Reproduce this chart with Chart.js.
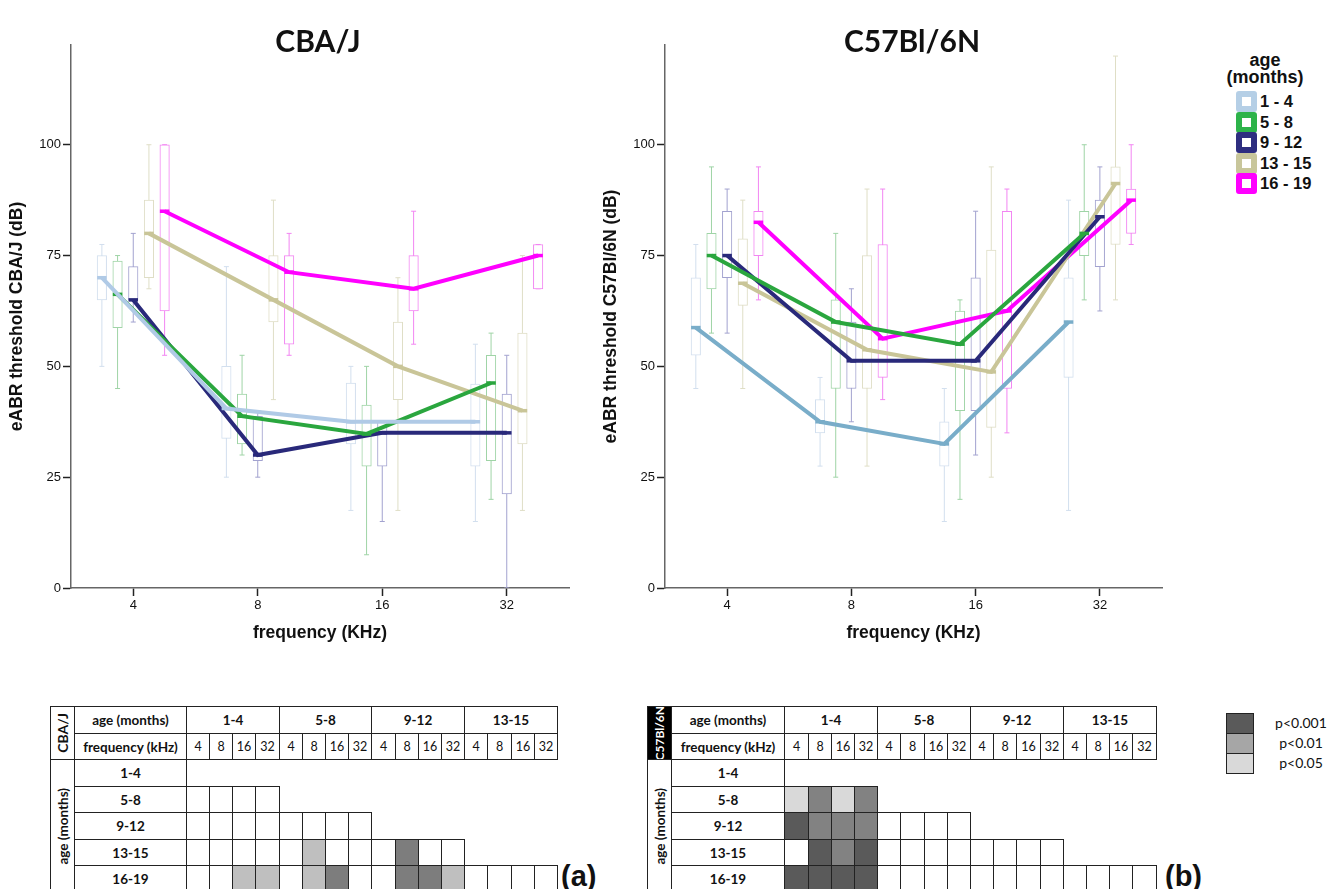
<!DOCTYPE html>
<html><head><meta charset="utf-8">
<script src="https://cdn.jsdelivr.net/npm/chart.js@4.4.1/dist/chart.umd.min.js"></script>
<style>
html,body{margin:0;padding:0;background:#fff;}
body{width:1338px;height:889px;overflow:hidden;position:relative;font-family:'Liberation Sans',Arial,sans-serif;color:#111;}
canvas.cv{position:absolute;top:0;}
.ctitle{position:absolute;font-family:Lato,sans-serif;font-weight:bold;font-size:30px;transform:translate(-50%,-50%);white-space:nowrap;color:#111;}
.cell{position:absolute;box-sizing:border-box;border:1px solid #222;display:flex;align-items:center;justify-content:center;font-family:Lato,sans-serif;font-size:13.5px;color:#111;white-space:nowrap;}
.b{font-weight:bold;}
.vt{writing-mode:vertical-rl;transform:rotate(180deg);}
.leg{position:absolute;font-weight:bold;font-size:16.5px;line-height:21px;white-space:nowrap;}
.sq{position:absolute;width:21px;height:21px;box-sizing:border-box;border:6px solid;border-radius:3px;background:#fff;}
.plab{position:absolute;font-family:Lato,sans-serif;font-size:14px;width:60px;text-align:center;}
.tag{position:absolute;font-weight:bold;font-size:29px;}
</style></head><body>
<canvas id="c1" class="cv" width="600" height="660" style="left:0px"></canvas>
<canvas id="c2" class="cv" width="600" height="660" style="left:594px"></canvas>
<div class="ctitle" style="left:318px;top:40px">CBA/J</div>
<div class="ctitle" style="left:912px;top:40px">C57Bl/6N</div>
<div id="legend"></div>
<div id="tables"></div>
<script>
// ---------- data ----------
const freqLabels = ['4', '8', '16', '32'];
const ageGroups = ['1 - 4', '5 - 8', '9 - 12', '13 - 15', '16 - 19'];
const tableAges = ['1-4', '5-8', '9-12', '13-15', '16-19'];

// CBA/J  (rows: age groups 1-4,5-8,9-12,13-15,16-19 ; cols: 4,8,16,32 kHz)
const cbaMin = [[50, 25, 17.5, 15], [45, 30, 7.5, 20], [60, 25, 15, 0], [67.5, 42.5, 17.5, 17.5], [52.5, 52.5, 55, 67.5]];
const cbaQ1  = [[65, 33.75, 32.5, 27.5], [58.75, 32.5, 27.5, 28.75], [65, 28.75, 27.5, 21.25], [70, 60, 42.5, 32.5], [62.5, 55, 62.5, 67.5]];
const cbaMed = [[70, 40.5, 37.5, 37.5], [66.25, 38.75, 34.75, 46.25], [65, 30, 35, 35], [80, 65, 50, 40], [85, 71.25, 67.5, 75]];
const cbaQ3  = [[75, 50, 46.25, 46], [73.75, 43.75, 41.25, 52.5], [72.5, 38.75, 37.5, 43.75], [87.5, 75, 60, 57.5], [100, 75, 75, 77.5]];
const cbaMax = [[77.5, 72.5, 50, 55], [75, 52.5, 50, 57.5], [80, 40, 37.5, 52.5], [100, 87.5, 70, 75], [100, 80, 85, 77.5]];

// C57Bl/6N
const c57Min = [[45, 27.5, 15, 17.5], [57.5, 25, 20, 65], [57.5, 37.5, 30, 62.5], [45, 27.5, 25, 65], [65, 42.5, 35, 77.5]];
const c57Q1  = [[52.5, 35, 27.5, 47.5], [67.5, 45, 40, 75], [70, 45, 40, 72.5], [63.75, 45, 36.25, 77.5], [75, 47.5, 45, 80]];
const c57Med = [[58.75, 37.5, 32.5, 60], [75, 60, 55, 80], [75, 51.25, 51.25, 83.75], [68.75, 53.75, 48.75, 91.25], [82.5, 56.25, 62.5, 87.5]];
const c57Q3  = [[70, 42.5, 37.5, 70], [80, 65, 62.5, 85], [85, 60, 70, 87.5], [78.75, 75, 76.25, 95], [85, 77.5, 85, 90]];
const c57Max = [[77.5, 47.5, 45, 87.5], [95, 80, 65, 100], [90, 67.5, 85, 95], [87.5, 90, 95, 120], [95, 90, 90, 100]];

// significance tables (0 none, 1 p<0.05, 2 p<0.01, 3 p<0.001); row per age group, columns = 4 freqs per earlier group
const sigCBA = [
  [],
  [0, 0, 0, 0],
  [0, 0, 0, 0, 0, 0, 0, 0],
  [0, 0, 0, 0, 0, 1, 0, 0, 0, 2, 0, 0],
  [0, 0, 1, 1, 0, 1, 2, 0, 0, 2, 2, 1, 0, 0, 0, 0]
];
const sigC57 = [
  [],
  [1, 2, 1, 2],
  [3, 2, 2, 2, 0, 0, 0, 0],
  [0, 3, 2, 3, 0, 0, 0, 0, 0, 0, 0, 0],
  [3, 3, 3, 3, 0, 0, 0, 0, 0, 0, 0, 0, 0, 0, 0, 0]
];
const pLabels = ['p<0.001', 'p<0.01', 'p<0.05'];

// ---------- styles ----------
const boxColors = ['#d2dfee', '#9fd4a6', '#a2a2cf', '#dfdec6', '#f285f2'];
const lineCBA = ['#b0cae6', '#2aa63e', '#29297a', '#c9c598', '#ff00ff'];
const lineC57 = ['#79adc9', '#2aa63e', '#29297a', '#c9c598', '#ff00ff'];
const legendColors = ['#b5cfe6', '#2db34a', '#2e2e80', '#c8c69b', '#ff00ff'];
const palCBA = {1: '#bfbfbf', 2: '#7d7d7d', 3: '#595959'};
const palC57 = {1: '#d9d9d9', 2: '#828282', 3: '#5a5a5a'};
const pColors = ['#5a5a5a', '#a6a6a6', '#d9d9d9'];

function makeChart(id, yTitle, mins, q1s, meds, q3s, maxs, lineCols, padRight) {
  const n = ageGroups.length, catPct = 0.63, slot = catPct / n;
  const datasets = [];
  for (let k = 0; k < n; k++) {
    const off = (k - (n - 1) / 2) * slot;
    datasets.push({
      type: 'bar', label: ageGroups[k],
      data: q1s[k].map((v, i) => ({x: i + off, y: [v, q3s[k][i]]})),
      backgroundColor: '#ffffff', borderColor: boxColors[k], borderWidth: 1, borderSkipped: false,
      grouped: false, barThickness: 9.5, order: 2, xAxisID: 'x2', yAxisID: 'y'
    });
    const wd = [];
    freqLabels.forEach((f, i) => {
      wd.push({x: i + off, y: mins[k][i]}, {x: i + off, y: maxs[k][i]}, {x: i + off, y: null});
    });
    datasets.push({
      type: 'line', data: wd, borderColor: boxColors[k], borderWidth: 1,
      pointStyle: 'line', pointRadius: 2.5, pointBorderWidth: 1, pointBorderColor: boxColors[k],
      pointBackgroundColor: boxColors[k], spanGaps: false, fill: false, tension: 0,
      order: 3, xAxisID: 'x2', yAxisID: 'y'
    });
    datasets.push({
      type: 'line', data: meds[k].map((v, i) => ({x: i + off, y: v})),
      borderColor: lineCols[k], borderWidth: 4, pointStyle: 'line', pointRadius: 4.75,
      pointBorderWidth: 3.5, pointBorderColor: lineCols[k], pointBackgroundColor: lineCols[k],
      fill: false, tension: 0, order: 1, xAxisID: 'x2', yAxisID: 'y'
    });
  }
  const tickFont = {family: 'Liberation Sans', size: 13};
  const titleFont = {family: 'Liberation Sans', size: 17.5, weight: 'bold'};
  return new Chart(document.getElementById(id), {
    type: 'bar',
    data: {labels: freqLabels, datasets},
    options: {
      responsive: false, animation: false, events: [],
      layout: {padding: {top: 45, right: padRight, left: 0, bottom: 0}},
      plugins: {legend: {display: false}, tooltip: {enabled: false}, title: {display: false}},
      scales: {
        x: {
          type: 'category', labels: freqLabels, offset: true,
          grid: {display: true, drawOnChartArea: false, drawTicks: true, tickLength: 8, tickColor: '#222', tickWidth: 1.5, offset: false},
          border: {display: true, color: '#666', width: 1.5},
          ticks: {color: '#111', font: tickFont, padding: 2},
          title: {display: true, text: 'frequency (KHz)', color: '#111', font: titleFont, padding: {top: 0, bottom: 16}},
          afterFit(s) { s.height = 72; s.paddingLeft = 0; s.paddingRight = 0; }
        },
        x2: {type: 'linear', min: -0.5, max: 3.5, offset: false, grid: {offset: false}, display: false},
        y: {
          min: 0, max: 122.5,
          grid: {display: true, drawOnChartArea: false, drawTicks: true, tickLength: 8, tickColor: '#222', tickWidth: 1.5},
          border: {display: true, color: '#666', width: 1.5},
          ticks: {stepSize: 25, includeBounds: false, color: '#111', font: tickFont, padding: 2},
          title: {display: true, text: yTitle, color: '#111', font: titleFont, padding: {top: 7, bottom: 0}},
          afterFit(s) { s.width = 71; s.paddingTop = 0; s.paddingBottom = 0; }
        }
      }
    }
  });
}

makeChart('c1', 'eABR threshold CBA/J (dB)', cbaMin, cbaQ1, cbaMed, cbaQ3, cbaMax, lineCBA, 31);
makeChart('c2', 'eABR threshold C57Bl/6N (dB)', c57Min, c57Q1, c57Med, c57Q3, c57Max, lineC57, 32);

// ---------- age legend ----------
const legend = document.getElementById('legend');
legend.innerHTML = '<div class="leg" style="left:1215px;top:52px;width:100px;text-align:center;font-size:18px;line-height:16.5px">age<br>(months)</div>';
ageGroups.forEach((g, k) => {
  const cy = 101.5 + k * 20.5;
  legend.insertAdjacentHTML('beforeend',
    `<div class="sq" style="left:1236px;top:${cy - 10.5}px;border-color:${legendColors[k]}"></div>` +
    `<div class="leg" style="left:1260px;top:${cy - 10.5}px">${g}</div>`);
});

// ---------- significance tables ----------
const tables = document.getElementById('tables');
function buildTable(left, c0, c1, strain, strainStyle, sig, pal) {
  const top = 706, rh = 26.5, cw = 23.2;
  // integer column / row boundaries
  const xs = [left, left + c0, left + c0 + c1];
  for (let j = 1; j <= 16; j++) xs.push(left + c0 + c1 + j * cw);
  const X = xs.map(Math.round);
  const Y = [];
  for (let r = 0; r <= 7; r++) Y.push(Math.round(top + r * rh));
  // col index: 0 strain, 1 label, 2.. data ; row index 0..6
  function cell(ca, cb, ra, rb, html, cls, style) {
    tables.insertAdjacentHTML('beforeend',
      `<div class="cell ${cls || ''}" style="left:${X[ca]}px;top:${Y[ra]}px;width:${X[cb] - X[ca] + 1}px;height:${Y[rb] - Y[ra] + 1}px;${style || ''}">${html}</div>`);
  }
  cell(0, 1, 0, 2, `<span class="vt">${strain}</span>`, 'b', strainStyle);
  cell(1, 2, 0, 1, 'age (months)', 'b');
  cell(1, 2, 1, 2, 'frequency (kHz)', 'b');
  for (let g = 0; g < 4; g++) {
    cell(2 + g * 4, 6 + g * 4, 0, 1, tableAges[g], 'b');
    freqLabels.forEach((f, i) => cell(2 + g * 4 + i, 3 + g * 4 + i, 1, 2, f, '', 'font-size:12.5px'));
  }
  cell(0, 1, 2, 7, '<span class="vt">age (months)</span>', 'b');
  for (let a = 0; a < 5; a++) {
    cell(1, 2, 2 + a, 3 + a, tableAges[a], 'b');
    sig[a].forEach((s, j) => cell(2 + j, 3 + j, 2 + a, 3 + a, '', '', s ? `background:${pal[s]}` : ''));
  }
}
buildTable(49.6, 24.3, 111.8, 'CBA/J', 'font-size:14px', sigCBA, palCBA);
buildTable(647.1, 24, 113.2, 'C57Bl/6N', 'background:#000;color:#fff;font-size:12px', sigC57, palC57);

tables.insertAdjacentHTML('beforeend', '<div class="tag" style="left:561px;top:860px">(a)</div>');
tables.insertAdjacentHTML('beforeend', '<div class="tag" style="left:1165px;top:860px">(b)</div>');

// p-value legend
pLabels.forEach((p, i) => {
  const y = 713 + i * 20;
  tables.insertAdjacentHTML('beforeend',
    `<div style="position:absolute;box-sizing:border-box;left:1226px;top:${y}px;width:28px;height:21px;border:1px solid #222;background:${pColors[i]}"></div>` +
    `<div class="plab" style="left:1271px;top:${y + 1}px">${p}</div>`);
});
</script>
</body></html>
